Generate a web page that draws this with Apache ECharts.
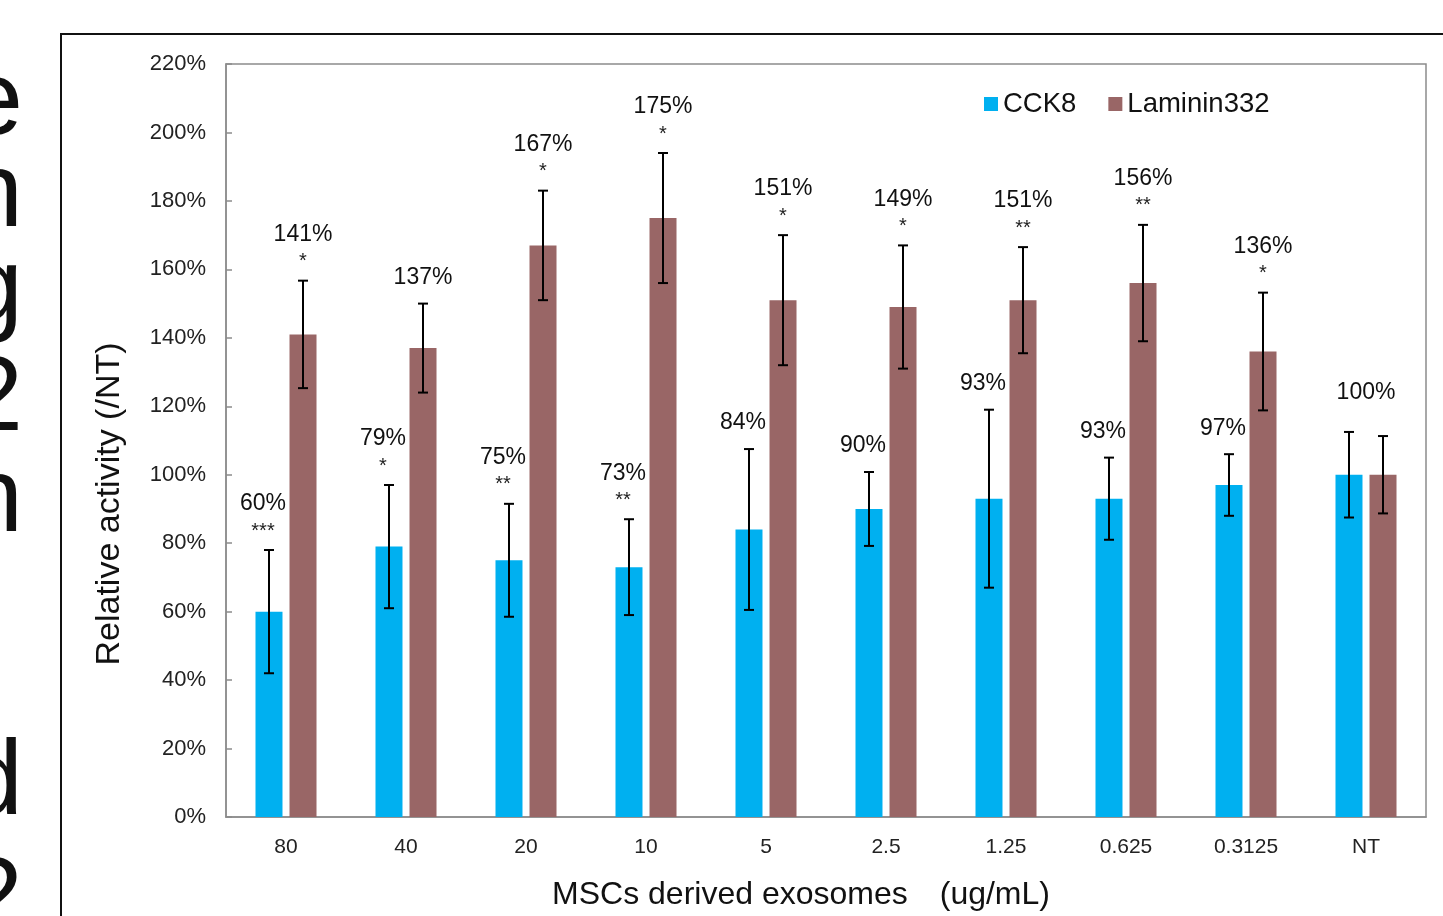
<!DOCTYPE html>
<html>
<head>
<meta charset="utf-8">
<title>Relative activity of MSCs derived exosomes</title>
<script src="https://cdn.jsdelivr.net/npm/echarts@6/dist/echarts.min.js"></script>
<style>
  html, body { margin: 0; padding: 0; background: #ffffff; }
  #chart { width: 1443px; height: 916px; }
</style>
</head>
<body>
<div id="chart"></div>
<script>
// Exosome dose (ug/mL) and untreated control
const categories = ['80', '40', '20', '10', '5', '2.5', '1.25', '0.625', '0.3125', 'NT'];

// Relative activity vs NT, in percent
const cck8Values = [60, 79, 75, 73, 84, 90, 93, 93, 97, 100];
const lamininValues = [141, 137, 167, 175, 151, 149, 151, 156, 136, 100];

// Error bar half-lengths, in percent
const cck8Errors = [18, 18, 16.5, 14, 23.5, 10.8, 26, 12, 9, 12.5];
const lamininErrors = [15.7, 13, 16, 19, 19, 18, 15.5, 17, 17.2, 11.3];

// Significance marks vs NT
const cck8Stars = ['***', '*', '**', '**', '', '', '', '', '', ''];
const lamininStars = ['*', '', '*', '*', '*', '*', '**', '**', '*', ''];

// Y axis ticks
const yMin = 0;
const yMax = 220;
const yStep = 20;

const FONT = "'Liberation Sans', Arial, sans-serif";
const BLUE = '#00B0F0';
const BROWN = '#996666';
const AXIS_GREY = '#8c8c8c';

const BAR_WIDTH = 27;
const BAR_OFFSET = 17; // half of bar width + gap, in pixels

function errorBarRenderer(values, errors, stars, otherValues, side, labelShift) {
  return function (params, api) {
    const i = params.dataIndex;
    const v = values[i];
    const e = errors[i];
    const top = api.coord([i, v + e]);
    const bottom = api.coord([i, v - e]);
    const x = top[0] + side * BAR_OFFSET;
    const cap = 5;
    const children = [
      { type: 'line', shape: { x1: x, y1: top[1], x2: x, y2: bottom[1] },
        style: { stroke: '#000', lineWidth: 2 } },
      { type: 'line', shape: { x1: x - cap, y1: top[1], x2: x + cap, y2: top[1] },
        style: { stroke: '#000', lineWidth: 2 } },
      { type: 'line', shape: { x1: x - cap, y1: bottom[1], x2: x + cap, y2: bottom[1] },
        style: { stroke: '#000', lineWidth: 2 } }
    ];

    // When both groups share the same value, a single label sits over the pair
    const shared = values[i] === otherValues[i];
    let drawLabel = true;
    let lx = x + labelShift;
    let anchorY = top[1];
    if (shared) {
      if (side > 0) {
        drawLabel = false;
      } else {
        lx = top[0];
        const otherErr = (values === cck8Values ? lamininErrors : cck8Errors)[i];
        anchorY = api.coord([i, v + Math.max(e, otherErr)])[1] - 13;
      }
    }
    if (drawLabel) {
      const s = stars[i];
      if (s) {
        children.push({ type: 'text', style: {
          text: s, x: lx, y: anchorY - 19, align: 'center', verticalAlign: 'middle',
          fontSize: 20, fontFamily: FONT, fill: '#222' } });
      }
      children.push({ type: 'text', style: {
        text: v + '%', x: lx, y: anchorY - (s ? 46 : 26), align: 'center', verticalAlign: 'middle',
        fontSize: 23, fontFamily: FONT, fill: '#111' } });
    }
    return { type: 'group', children: children };
  };
}

// Text of the neighbouring slide column, cut by the page's left edge
const sideLetters = [
  { t: 'e', y: 105 }, { t: 'n', y: 197 }, { t: 'g', y: 292 }, { t: '2', y: 401 },
  { t: 'n', y: 502 }, { t: 'd', y: 785 }, { t: '2', y: 902 }
];

const chart = echarts.init(document.getElementById('chart'), null, { renderer: 'canvas' });

chart.setOption({
  animation: false,
  backgroundColor: '#ffffff',
  textStyle: { fontFamily: FONT },
  grid: {
    left: 226, right: 17, top: 64, bottom: 99,
    show: true, borderColor: AXIS_GREY, borderWidth: 1.5, backgroundColor: 'transparent'
  },
  legend: {
    left: 984, top: 90, padding: 0, itemGap: 32,
    itemWidth: 14, itemHeight: 14,
    textStyle: { fontSize: 27.5, color: '#111', fontFamily: FONT },
    data: [{ name: 'CCK8', icon: 'rect' }, { name: 'Laminin332', icon: 'rect' }]
  },
  xAxis: {
    type: 'category',
    data: categories,
    axisLine: { lineStyle: { color: AXIS_GREY, width: 1.5 } },
    axisTick: { show: false },
    axisLabel: { fontSize: 21, color: '#222', margin: 20, fontFamily: FONT },
    splitLine: { show: false }
  },
  yAxis: {
    type: 'value',
    min: yMin, max: yMax, interval: yStep,
    axisLine: { show: true, lineStyle: { color: AXIS_GREY, width: 1.5 } },
    axisTick: { show: true, inside: true, length: 6, lineStyle: { color: AXIS_GREY, width: 1.5 } },
    axisLabel: { fontSize: 22, color: '#222', margin: 20, fontFamily: FONT, formatter: '{value}%' },
    splitLine: { show: false }
  },
  graphic: [
    { type: 'rect', shape: { x: 61, y: 34, width: 1500, height: 1000 },
      style: { fill: 'none', stroke: '#111', lineWidth: 2 }, silent: true },
    { type: 'text', x: 110, y: 504, rotation: Math.PI / 2,
      style: { text: 'Relative activity (/NT)', align: 'center', verticalAlign: 'middle',
        fontSize: 34, fontFamily: FONT, fill: '#111' } },
    { type: 'text', x: 801, y: 895,
      style: { text: 'MSCs derived exosomes\u3000(ug/mL)', align: 'center', verticalAlign: 'middle',
        fontSize: 32, fontFamily: FONT, fill: '#111' } }
  ].concat(sideLetters.map(function (d) {
    return { type: 'text', x: 23, y: d.y,
      style: { text: d.t, align: 'right', verticalAlign: 'middle',
        fontSize: 106, fontFamily: FONT, fill: '#111' } };
  })),
  series: [
    { name: 'CCK8', type: 'bar', data: cck8Values, barWidth: BAR_WIDTH, barGap: '26%',
      itemStyle: { color: BLUE } },
    { name: 'Laminin332', type: 'bar', data: lamininValues, barWidth: BAR_WIDTH, barGap: '26%',
      itemStyle: { color: BROWN } },
    { name: 'CCK8 error', type: 'custom', z: 5,
      data: cck8Values.map(function (v, i) { return [i, v]; }),
      renderItem: errorBarRenderer(cck8Values, cck8Errors, cck8Stars, lamininValues, -1, -6) },
    { name: 'Laminin332 error', type: 'custom', z: 5,
      data: lamininValues.map(function (v, i) { return [i, v]; }),
      renderItem: errorBarRenderer(lamininValues, lamininErrors, lamininStars, cck8Values, 1, 0) }
  ]
});
</script>
</body>
</html>
